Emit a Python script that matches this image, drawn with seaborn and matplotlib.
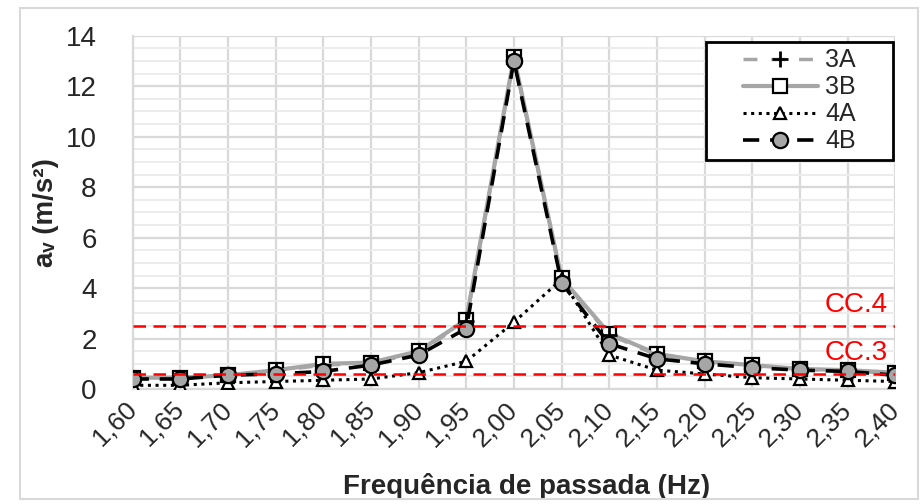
import numpy as np
import pandas as pd
import matplotlib.pyplot as plt
import seaborn as sns
from matplotlib.ticker import MultipleLocator

freq = [1.60, 1.65, 1.70, 1.75, 1.80, 1.85, 1.90, 1.95, 2.00,
        2.05, 2.10, 2.15, 2.20, 2.25, 2.30, 2.35, 2.40]
tick_labels = ['1,60', '1,65', '1,70', '1,75', '1,80', '1,85', '1,90', '1,95', '2,00',
               '2,05', '2,10', '2,15', '2,20', '2,25', '2,30', '2,35', '2,40']
av_3a = [0.42, 0.43, 0.55, 0.72, 0.95, 1.02, 1.45, 2.7, 13.1, 4.35, 2.15, 1.35, 1.08, 0.92, 0.78, 0.72, 0.62]
av_3b = [0.45, 0.45, 0.55, 0.75, 1.0, 1.05, 1.5, 2.75, 13.15, 4.4, 2.2, 1.4, 1.1, 0.95, 0.8, 0.75, 0.65]
av_4a = [0.15, 0.15, 0.25, 0.3, 0.35, 0.4, 0.65, 1.1, 2.65, 4.35, 1.35, 0.75, 0.6, 0.45, 0.4, 0.35, 0.3]
av_4b = [0.4, 0.4, 0.55, 0.6, 0.7, 0.95, 1.35, 2.4, 13.0, 4.2, 1.8, 1.2, 1.0, 0.85, 0.75, 0.7, 0.55]
cc_levels = [2.5, 0.6]
cc_names = ['CC.4', 'CC.3']

sns.set_style('white')
plt.rcParams['font.family'] = ['Liberation Sans', 'DejaVu Sans']

fig = plt.figure(figsize=(9.21, 5.04), dpi=100)
ax = fig.add_axes([0.144, 0.228, 0.828, 0.701])

df = pd.DataFrame({'f': freq, '3A': av_3a, '3B': av_3b, '4A': av_4a, '4B': av_4b})

sns.lineplot(data=df, x='f', y='3B', ax=ax, color='#a6a6a6', lw=3, label='3B',
             marker='s', markersize=10, markerfacecolor='white', markeredgecolor='black',
             markeredgewidth=1.6, zorder=3)
sns.lineplot(data=df, x='f', y='3A', ax=ax, color='#a6a6a6', lw=2.5, ls=(0, (4, 4)), label='3A',
             marker='+', markersize=11, markeredgecolor='black', markeredgewidth=2, zorder=4)
sns.lineplot(data=df, x='f', y='4A', ax=ax, color='black', lw=2.2, ls=(0, (1, 1.5)), label='4A',
             marker='^', markersize=9, markerfacecolor='white', markeredgecolor='black',
             markeredgewidth=1.6, zorder=5)
sns.lineplot(data=df, x='f', y='4B', ax=ax, color='black', lw=2.6, ls=(0, (4.5, 3)), label='4B',
             marker='o', markersize=11, markerfacecolor='#a6a6a6', markeredgecolor='black',
             markeredgewidth=1.6, zorder=6)

for lvl, name in zip(cc_levels, cc_names):
    ax.axhline(lvl, color='red', lw=1.8, ls=(0, (5, 3)), zorder=7)
    ax.text(2.392, lvl + 0.3, name, color='red', fontsize=20, ha='right', va='bottom', zorder=8)

ax.set_xlim(1.60, 2.40)
ax.set_ylim(0, 14)
ax.set_xticks(freq)
ax.set_xticklabels(tick_labels, rotation=45, fontsize=19, ha='right', va='center',
                   rotation_mode='anchor')
ax.yaxis.set_major_locator(MultipleLocator(2))
ax.yaxis.set_minor_locator(MultipleLocator(0.5))
ax.tick_params(axis='y', labelsize=20, length=0, pad=26)
ax.tick_params(axis='x', length=0, pad=12)
ax.grid(which='major', color='#d9d9d9', lw=1.6, zorder=0)
ax.grid(which='minor', axis='y', color='#ececec', lw=1.4, zorder=0)
ax.set_axisbelow(True)
for s in ['top', 'right']:
    ax.spines[s].set_visible(False)
for s in ['left', 'bottom']:
    ax.spines[s].set_color('#d9d9d9')
    ax.spines[s].set_linewidth(1.6)

ax.set_xlabel('Frequência de passada (Hz)', fontsize=20, fontweight='bold')
ax.xaxis.set_label_coords(0.517, -0.238)
ax.set_ylabel('aᵥ (m/s²)', fontsize=20, fontweight='bold')
ax.yaxis.set_label_coords(-0.096, 0.5)

handles, labels = ax.get_legend_handles_labels()
order = [labels.index(n) for n in ['3A', '3B', '4A', '4B']]
leg = ax.legend([handles[i] for i in order], ['3A', '3B', '4A', '4B'],
                loc='center', bbox_to_anchor=(0.8745, 0.816), fontsize=18,
                frameon=False, handlelength=3.0, labelspacing=0.12, handletextpad=0.3)
ax.add_patch(plt.Rectangle((0.752, 0.649), 0.245, 0.334, transform=ax.transAxes,
                           facecolor='white', edgecolor='black', lw=2, zorder=9))
leg.set_zorder(10)

fig.patches.append(plt.Rectangle((0.022, 0.01), 0.975, 0.975, transform=fig.transFigure,
                                 fill=False, edgecolor='#d9d9d9', lw=1.5))

fig.savefig('out.png', dpi=100)
